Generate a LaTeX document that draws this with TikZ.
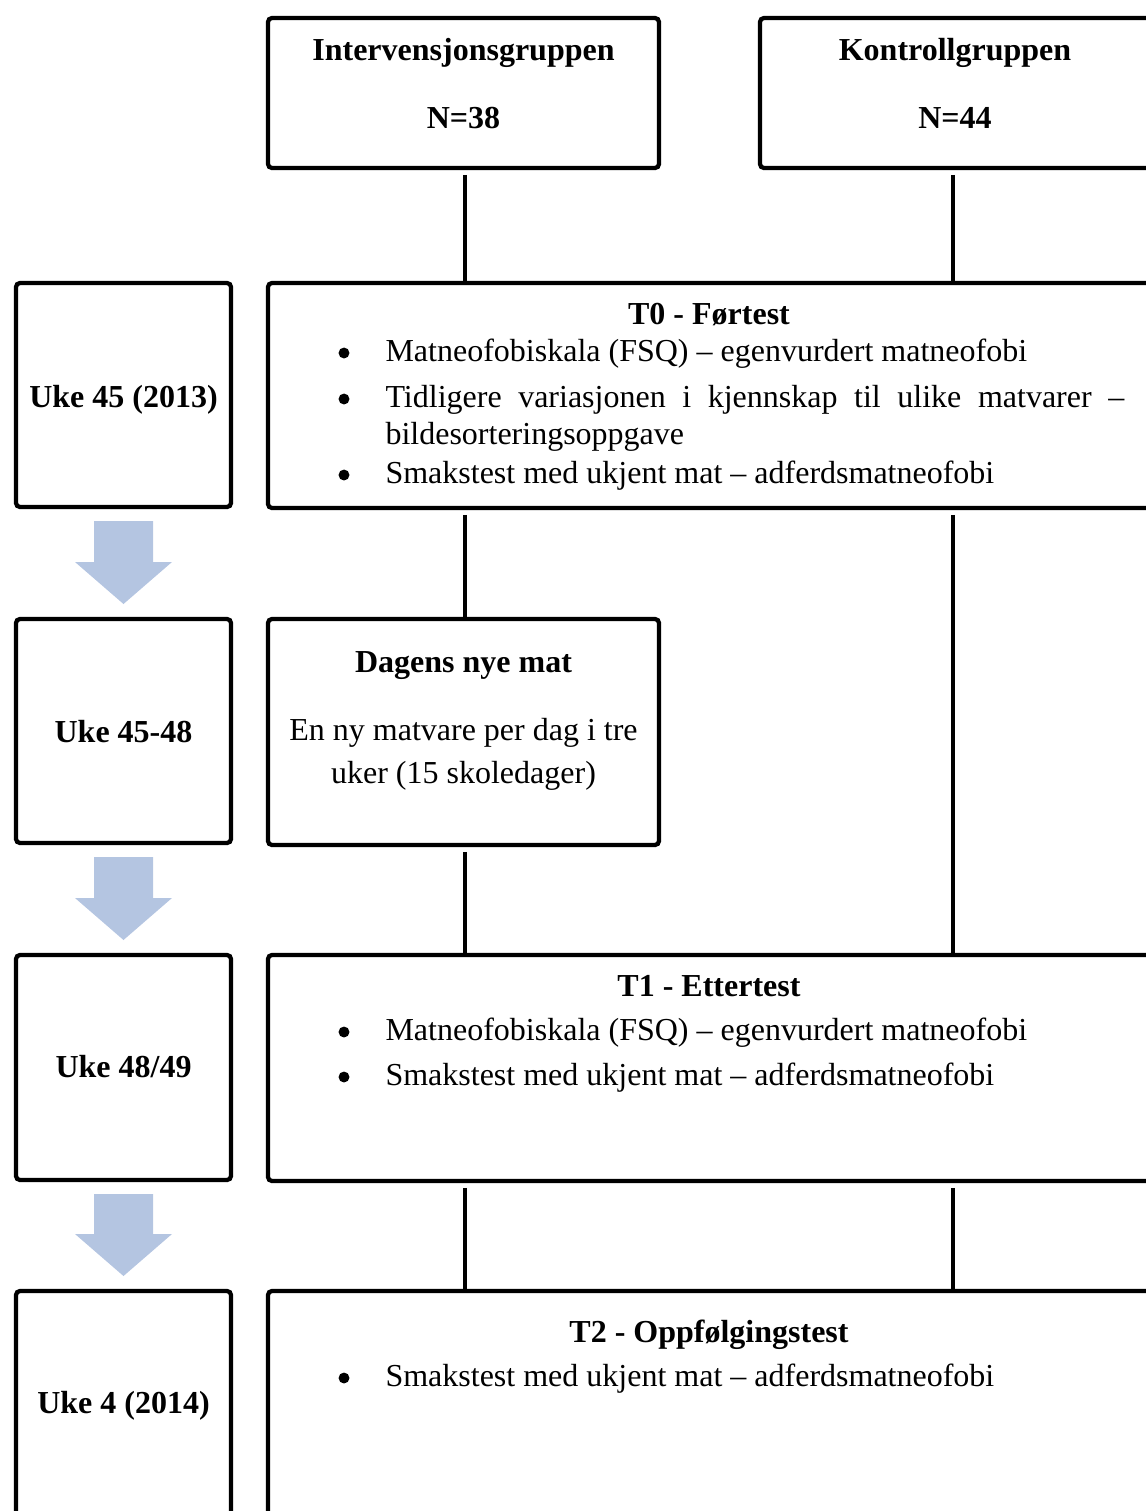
\documentclass[tikz,border=0pt]{standalone}
\usepackage{fontspec}
\setmainfont{Liberation Serif}
\usetikzlibrary{calc}
\definecolor{arrowblue}{RGB}{180,197,225}
\newcommand{\pxl}[1]{#1*0.375pt}
\tikzset{
  box/.style={draw, line width=1.6pt, rounded corners=1.5pt, inner sep=0pt, outer sep=0pt, anchor=north west},
  lbl/.style={anchor=base, inner sep=0pt, font=\fontsize{12}{13.9}\selectfont},
  head/.style={lbl, font=\fontsize{12}{13.9}\selectfont\bfseries},
  itm/.style={lbl, anchor=base west},
  dot/.style={circle, fill, inner sep=0pt, minimum size=4.1pt},
  conn/.style={line width=1.6pt, shorten <=2.6pt},
  blockarrow/.style={fill=arrowblue}
}
\begin{document}
\begin{tikzpicture}[x=0.375pt, y=-0.375pt]
\useasboundingbox (0,0) rectangle (1146,1511);
\clip (0,0) rectangle (1146,1511);
% boxes
\node[box, minimum width=\pxl{391}, minimum height=\pxl{150}] (interv) at (268,18) {};
\node[box, minimum width=\pxl{392}, minimum height=\pxl{150}] (kontr) at (760,18) {};
\node[box, minimum width=\pxl{215}, minimum height=\pxl{224}] (uke1) at (16,283) {};
\node[box, minimum width=\pxl{884}, minimum height=\pxl{225}] (t0) at (268,283) {};
\node[box, minimum width=\pxl{215}, minimum height=\pxl{224}] (uke2) at (16,619) {};
\node[box, minimum width=\pxl{391}, minimum height=\pxl{226}] (dagens) at (268,619) {};
\node[box, minimum width=\pxl{215}, minimum height=\pxl{225}] (uke3) at (16,955) {};
\node[box, minimum width=\pxl{884}, minimum height=\pxl{226}] (t1) at (268,955) {};
\node[box, minimum width=\pxl{215}, minimum height=\pxl{229}] (uke4) at (16,1291) {};
\node[box, minimum width=\pxl{884}, minimum height=\pxl{229}] (t2) at (268,1291) {};
% connectors
\coordinate (colA) at (465,0);
\coordinate (colB) at (953,0);
\draw[conn] (colA |- interv.south) -- (colA |- t0.north);
\draw[conn] (colB |- kontr.south) -- (colB |- t0.north);
\draw[conn] (colA |- t0.south) -- (colA |- dagens.north);
\draw[conn] (colB |- t0.south) -- (colB |- t1.north);
\draw[conn] (colA |- dagens.south) -- (colA |- t1.north);
\draw[conn] (colA |- t1.south) -- (colA |- t2.north);
\draw[conn] (colB |- t1.south) -- (colB |- t2.north);
% block arrows
\foreach \a/\b in {uke1/uke2, uke2/uke3, uke3/uke4}
  \fill[blockarrow] ($(\a.south)+(-29.5,14)$) -- ($(\a.south)+(29.5,14)$)
    -- ($(\b.north)+(29.5,-57)$) -- ($(\b.north)+(48.5,-57)$)
    -- ($(\b.north)+(0,-15)$) -- ($(\b.north)+(-48.5,-57)$)
    -- ($(\b.north)+(-29.5,-57)$) -- cycle;
% texts
\node[head] (intervA) at (463.5,60) {Intervensjonsgruppen};
\node[head] (intervB) at (463.5,128) {N=38};
\node[head] (kontrA) at (955,60) {Kontrollgruppen};
\node[head] (kontrB) at (955,128) {N=44};
\node[head] (uke1t) at (123.5,407) {Uke 45 (2013)};
\node[head] (uke2t) at (123.5,742) {Uke 45-48};
\node[head] (uke3t) at (123.5,1077) {Uke 48/49};
\node[head] (uke4t) at (123.5,1413) {Uke 4 (2014)};
\node[head] (t0t) at (709,324) {T0 - Førtest};
\node[dot] (t0d1) at (344,353) {};
\node[itm] (t0i1) at (385,361) {Matneofobiskala (FSQ) – egenvurdert matneofobi};
\node[dot] (t0d2) at (344,399) {};
\node[itm] (t0i2) at (385,407) {\parbox[t]{277pt}{\tolerance=10000\hyphenpenalty=10000
  Tidligere variasjonen i kjennskap til ulike matvarer – bildesorteringsoppgave}};
\node[dot] (t0d3) at (344,475) {};
\node[itm] (t0i3) at (385,483) {Smakstest med ukjent mat – adferdsmatneofobi};
\node[head] (dagenst) at (463.5,672) {Dagens nye mat};
\node[lbl] (dagens1) at (463.5,740) {En ny matvare per dag i tre};
\node[lbl] (dagens2) at (463.5,783) {uker (15 skoledager)};
\node[head] (t1t) at (709,996) {T1 - Ettertest};
\node[dot] (t1d1) at (344,1032) {};
\node[itm] (t1i1) at (385,1040) {Matneofobiskala (FSQ) – egenvurdert matneofobi};
\node[dot] (t1d2) at (344,1077) {};
\node[itm] (t1i2) at (385,1085) {Smakstest med ukjent mat – adferdsmatneofobi};
\node[head] (t2t) at (709,1342) {T2 - Oppfølgingstest};
\node[dot] (t2d1) at (344,1378) {};
\node[itm] (t2i1) at (385,1386) {Smakstest med ukjent mat – adferdsmatneofobi};
\end{tikzpicture}
\end{document}
